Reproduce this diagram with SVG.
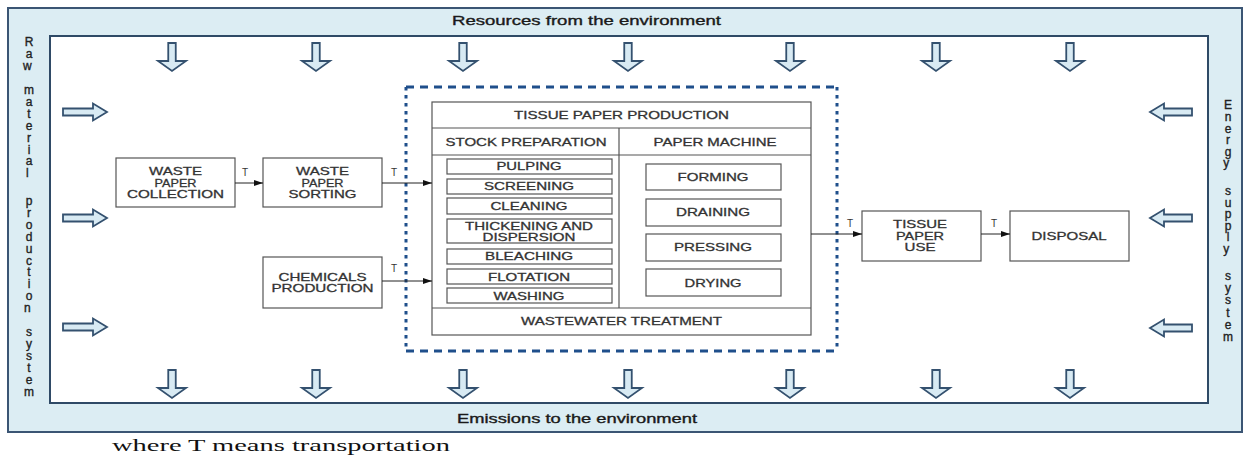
<svg xmlns="http://www.w3.org/2000/svg" width="1244" height="458" viewBox="0 0 1244 458">
<style>
.frame{fill:#dcedf3;stroke:#3b5574;stroke-width:2}
.inner{fill:#ffffff;stroke:#2f4a66;stroke-width:2}
.bigarrow{fill:#d8eaf3;stroke:#34516f;stroke-width:1.8;stroke-linejoin:miter}
.box{fill:#ffffff;stroke:#555555;stroke-width:1.2}
.lbl{font-family:"Liberation Sans",Arial,sans-serif;font-size:11px;fill:#333333;stroke:#333333;stroke-width:0.3;text-anchor:middle}
.side{font-family:"Liberation Sans",Arial,sans-serif;font-size:12px;fill:#222222;stroke:#222222;stroke-width:0.35;text-anchor:middle}
.env{font-family:"Liberation Sans",Arial,sans-serif;font-size:13px;fill:#1a1a1a;stroke:#1a1a1a;stroke-width:0.35;text-anchor:middle}
.t{font-family:"Liberation Sans",Arial,sans-serif;font-size:10px;fill:#333333;text-anchor:middle}
.conn{stroke:#222222;stroke-width:1;fill:none}
.dashH{stroke:#1f4f8b;stroke-width:3;stroke-dasharray:8 6;fill:none}
.dashV{stroke:#1f4f8b;stroke-width:3;stroke-dasharray:3.5 4.5;fill:none}
</style>
<defs>
<path id="down" class="bigarrow" d="M-3.75,0 H3.75 V18 H14 L0,28 L-14,18 H-3.75 Z"/>
<path id="right" class="bigarrow" d="M0,-3.5 H30 V-8.5 L44,0 L30,8.5 V3.5 H0 Z"/>
<path id="left" class="bigarrow" d="M0,-3.5 H-28 V-8.5 L-42,0 L-28,8.5 V3.5 H0 Z"/>
<marker id="ah" markerWidth="9" markerHeight="6" refX="9" refY="3" orient="auto" markerUnits="userSpaceOnUse">
<path d="M0,0 L9,3 L0,6 Z" fill="#111111"/>
</marker>
</defs>

<g id="environment-frame">
<rect class="frame" x="8" y="8" width="1234" height="424"/>
<rect class="inner" x="50" y="36" width="1158" height="367"/>
<text class="env" x="586.5" y="25" textLength="269" lengthAdjust="spacingAndGlyphs">Resources from the environment</text>
<text class="env" x="577" y="423" textLength="240" lengthAdjust="spacingAndGlyphs">Emissions to the environment</text>
</g>

<g id="raw-material-label">
<text class="side">
<tspan x="29" y="46">R</tspan><tspan x="29" y="58">a</tspan><tspan x="29" y="70">w</tspan>
<tspan x="29" y="94">m</tspan><tspan x="29" y="105.9">a</tspan><tspan x="29" y="117.8">t</tspan><tspan x="29" y="129.7">e</tspan><tspan x="29" y="141.6">r</tspan><tspan x="29" y="153.5">i</tspan><tspan x="29" y="165.4">a</tspan><tspan x="29" y="177.3">l</tspan>
<tspan x="29" y="205">p</tspan><tspan x="29" y="216.9">r</tspan><tspan x="29" y="228.8">o</tspan><tspan x="29" y="240.7">d</tspan><tspan x="29" y="252.6">u</tspan><tspan x="29" y="264.5">c</tspan><tspan x="29" y="276.4">t</tspan><tspan x="29" y="288.3">i</tspan><tspan x="29" y="300.2">o</tspan><tspan x="29" y="312.1">n</tspan>
<tspan x="29" y="336">s</tspan><tspan x="29" y="348">y</tspan><tspan x="29" y="360">s</tspan><tspan x="29" y="372">t</tspan><tspan x="29" y="384">e</tspan><tspan x="29" y="396">m</tspan>
</text>
</g>

<g id="energy-label">
<text class="side">
<tspan x="1228" y="109.3">E</tspan><tspan x="1228" y="120.9">n</tspan><tspan x="1228" y="132.5">e</tspan><tspan x="1228" y="144.1">r</tspan><tspan x="1228" y="155.7">g</tspan><tspan x="1228" y="167.3">y</tspan>
<tspan x="1228" y="195">s</tspan><tspan x="1228" y="206.6">u</tspan><tspan x="1228" y="218.2">p</tspan><tspan x="1228" y="229.8">p</tspan><tspan x="1228" y="241.4">l</tspan><tspan x="1228" y="253">y</tspan>
<tspan x="1228" y="280">s</tspan><tspan x="1228" y="292.2">y</tspan><tspan x="1228" y="304.4">s</tspan><tspan x="1228" y="316.6">t</tspan><tspan x="1228" y="328.8">e</tspan><tspan x="1228" y="341">m</tspan>
</text>
</g>

<g id="flow-arrows">
<use href="#down" x="172" y="43"/><use href="#down" x="316" y="43"/><use href="#down" x="463" y="43"/><use href="#down" x="628" y="43"/><use href="#down" x="790" y="43"/><use href="#down" x="936" y="43"/><use href="#down" x="1070" y="43"/>
<use href="#down" x="172" y="370"/><use href="#down" x="316" y="370"/><use href="#down" x="463" y="370"/><use href="#down" x="628" y="370"/><use href="#down" x="790" y="370"/><use href="#down" x="936" y="370"/><use href="#down" x="1070" y="370"/>
<use href="#right" x="63" y="112"/><use href="#right" x="63" y="218"/><use href="#right" x="63" y="327"/>
<use href="#left" x="1192" y="112"/><use href="#left" x="1192" y="218"/><use href="#left" x="1192" y="328"/>
</g>

<g id="system-boundary">
<line class="dashH" x1="406" y1="87" x2="837" y2="87"/>
<line class="dashH" x1="406" y1="351" x2="837" y2="351"/>
<line class="dashV" x1="406" y1="87" x2="406" y2="351"/>
<line class="dashV" x1="837" y1="87" x2="837" y2="351"/>
</g>

<g id="waste-paper-collection">
<rect class="box" x="116" y="158" width="119" height="49"/>
<text class="lbl" x="175.5" y="175" textLength="53" lengthAdjust="spacingAndGlyphs">WASTE</text>
<text class="lbl" x="175.5" y="187" textLength="42" lengthAdjust="spacingAndGlyphs">PAPER</text>
<text class="lbl" x="175.5" y="198" textLength="97" lengthAdjust="spacingAndGlyphs">COLLECTION</text>
</g>

<g id="waste-paper-sorting">
<rect class="box" x="263" y="158" width="119" height="49"/>
<text class="lbl" x="322.5" y="175" textLength="53" lengthAdjust="spacingAndGlyphs">WASTE</text>
<text class="lbl" x="322.5" y="187" textLength="42" lengthAdjust="spacingAndGlyphs">PAPER</text>
<text class="lbl" x="322.5" y="198" textLength="68" lengthAdjust="spacingAndGlyphs">SORTING</text>
</g>

<g id="chemicals-production">
<rect class="box" x="263" y="257" width="119" height="51"/>
<text class="lbl" x="322.5" y="281" textLength="88" lengthAdjust="spacingAndGlyphs">CHEMICALS</text>
<text class="lbl" x="322.5" y="292" textLength="102" lengthAdjust="spacingAndGlyphs">PRODUCTION</text>
</g>

<g id="tissue-paper-production">
<rect class="box" x="432" y="102" width="379" height="233"/>
<line class="box" x1="432" y1="128" x2="811" y2="128"/>
<line class="box" x1="432" y1="155" x2="811" y2="155"/>
<line class="box" x1="432" y1="308" x2="811" y2="308"/>
<line class="box" x1="619" y1="128" x2="619" y2="308"/>
<text class="lbl" x="621.5" y="119" textLength="215" lengthAdjust="spacingAndGlyphs">TISSUE PAPER PRODUCTION</text>
<text class="lbl" x="526" y="146" textLength="161" lengthAdjust="spacingAndGlyphs">STOCK PREPARATION</text>
<text class="lbl" x="715" y="146" textLength="123" lengthAdjust="spacingAndGlyphs">PAPER MACHINE</text>
<text class="lbl" x="621.5" y="325" textLength="201" lengthAdjust="spacingAndGlyphs">WASTEWATER TREATMENT</text>
</g>

<g id="pulping"><rect class="box" x="447" y="159" width="165" height="15"/><text class="lbl" x="529" y="170" textLength="65" lengthAdjust="spacingAndGlyphs">PULPING</text></g>
<g id="screening"><rect class="box" x="447" y="179" width="165" height="15"/><text class="lbl" x="529" y="190" textLength="90" lengthAdjust="spacingAndGlyphs">SCREENING</text></g>
<g id="cleaning"><rect class="box" x="447" y="198" width="165" height="16"/><text class="lbl" x="529" y="210" textLength="77" lengthAdjust="spacingAndGlyphs">CLEANING</text></g>
<g id="thickening"><rect class="box" x="447" y="219" width="165" height="24"/><text class="lbl" x="529" y="230" textLength="128" lengthAdjust="spacingAndGlyphs">THICKENING AND</text><text class="lbl" x="529" y="241" textLength="93" lengthAdjust="spacingAndGlyphs">DISPERSION</text></g>
<g id="bleaching"><rect class="box" x="447" y="249" width="165" height="15"/><text class="lbl" x="529" y="260" textLength="88" lengthAdjust="spacingAndGlyphs">BLEACHING</text></g>
<g id="flotation"><rect class="box" x="447" y="269" width="165" height="15"/><text class="lbl" x="529" y="281" textLength="82" lengthAdjust="spacingAndGlyphs">FLOTATION</text></g>
<g id="washing"><rect class="box" x="447" y="288" width="165" height="15"/><text class="lbl" x="529" y="300" textLength="71" lengthAdjust="spacingAndGlyphs">WASHING</text></g>

<g id="forming"><rect class="box" x="646" y="164" width="135" height="26"/><text class="lbl" x="713" y="181" textLength="71" lengthAdjust="spacingAndGlyphs">FORMING</text></g>
<g id="draining"><rect class="box" x="646" y="199" width="135" height="27"/><text class="lbl" x="713" y="216" textLength="74" lengthAdjust="spacingAndGlyphs">DRAINING</text></g>
<g id="pressing"><rect class="box" x="646" y="234" width="135" height="27"/><text class="lbl" x="713" y="251" textLength="78" lengthAdjust="spacingAndGlyphs">PRESSING</text></g>
<g id="drying"><rect class="box" x="646" y="269" width="135" height="27"/><text class="lbl" x="713" y="287" textLength="57" lengthAdjust="spacingAndGlyphs">DRYING</text></g>

<g id="tissue-paper-use">
<rect class="box" x="862" y="211" width="119" height="50"/>
<text class="lbl" x="920" y="228" textLength="54" lengthAdjust="spacingAndGlyphs">TISSUE</text>
<text class="lbl" x="920" y="240" textLength="48" lengthAdjust="spacingAndGlyphs">PAPER</text>
<text class="lbl" x="920" y="251" textLength="31" lengthAdjust="spacingAndGlyphs">USE</text>
</g>

<g id="disposal">
<rect class="box" x="1010" y="211" width="119" height="50"/>
<text class="lbl" x="1069" y="240" textLength="75" lengthAdjust="spacingAndGlyphs">DISPOSAL</text>
</g>

<g id="connectors">
<line class="conn" x1="235" y1="183" x2="263" y2="183" marker-end="url(#ah)"/>
<line class="conn" x1="382" y1="183" x2="432" y2="183" marker-end="url(#ah)"/>
<line class="conn" x1="382" y1="281" x2="432" y2="281" marker-end="url(#ah)"/>
<line class="conn" x1="811" y1="234" x2="862" y2="234" marker-end="url(#ah)"/>
<line class="conn" x1="981" y1="234" x2="1010" y2="234" marker-end="url(#ah)"/>
<text class="t" x="245" y="176">T</text>
<text class="t" x="394" y="176">T</text>
<text class="t" x="394" y="272">T</text>
<text class="t" x="850" y="227">T</text>
<text class="t" x="994" y="227">T</text>
</g>

<text x="112" y="451" font-family="'Liberation Serif','Times New Roman',serif" font-size="16" fill="#111111" textLength="338" lengthAdjust="spacingAndGlyphs">where T means transportation</text>
</svg>
